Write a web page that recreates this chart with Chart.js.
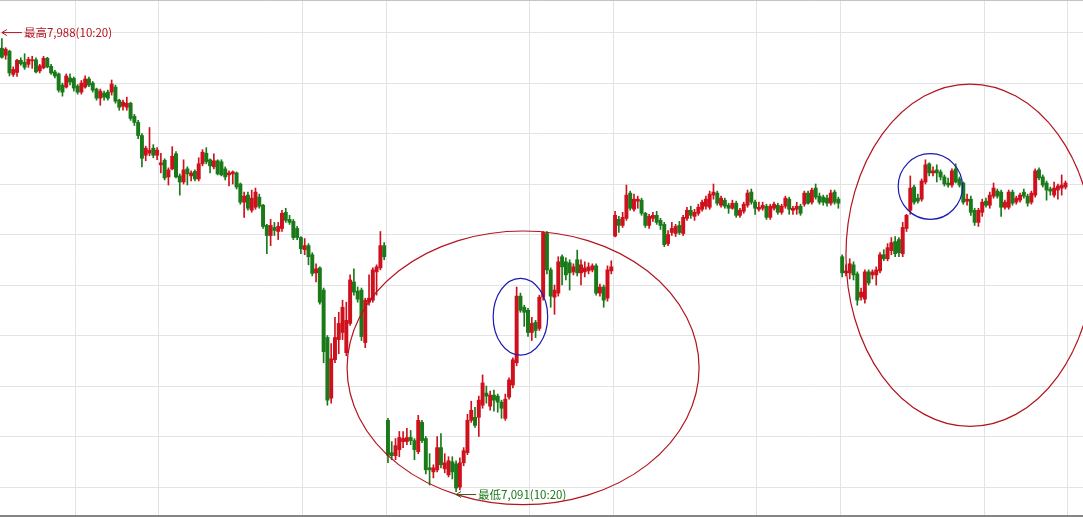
<!DOCTYPE html>
<html>
<head>
<meta charset="utf-8">
<script src="https://cdn.jsdelivr.net/npm/chart.js@4.4.1/dist/chart.umd.min.js"></script>
<style>
html, body { margin: 0; padding: 0; background: #fff; }
#wrap { width: 1083px; height: 518px; position: relative; }
</style>
</head>
<body>
<div id="wrap"><canvas id="kChart"></canvas></div>
<script>
// one bar per minute, four sessions back to back
const opens = [
  7969,7955,7963,7917,7921,7945,7941,7937,7944,7946, 7924,7930,7949,7933,7922,7918,7896,7892,7910,7909,
  7894,7882,7892,7908,7900,7888,7870,7880,7882,7882, 7892,7866,7854,7852,7860,7834,7822,7796,7757,7761,
  7771,7757,7738,7747,7714,7730,7760,7716,7704,7730, 7716,7725,7710,7740,7761,7748,7734,7746,7744,7730,
  7718,7720,7722,7700,7664,7678,7648,7654,7674,7658, 7618,7598,7614,7606,7612,7644,7630,7626,7612,7594,
  7570,7578,7560,7524,7534,7490,7396,7276,7352,7392, 7406,7366,7424,7506,7488,7490,7386,7466,7470,7526,
  7534,7578,
  7232,7168,7162,7174,7190,7190,7198,7192,7170,7228, 7196,7138,7130,7134,7178,7136,7124,7150,7146,7100,
  7148,7168,7232,7238,7238,7262,7286,7260,7282,7280, 7268,7236,7278,7302,7346,7478,7456,7450,7406,7426,
  7414,7476,7602,7530,7476,7484,7556,7546,7544,7526, 7550,7524,7526,7528,7530,7538,7484,7496,7474,7528,
  7597,7630,7618,7632,7682,7650,7666,7668,7642,7618, 7632,7638,7628,7620,7582,7604,7602,7618,7602,7632,
  7648,7636,7642,7650,7656,7654,7678,7682,7658,7668, 7658,7652,7662,7638,7646,7658,7684,7664,7650,7652,
  7656,7634,7652,7658,7644,7656,7670,7648,7650,7656, 7660,7682,7664,7692,7676,7674,7672,7662,7684,7670,
  7556,7524,7524,7540,7522,7476,7472,7526,7520,7520, 7528,7560,7552,7568,7586,7590,7562,7612,7648,7694,
  7672,7670,7704,7740,7722,7728,7724,7714,7702,7698, 7730,7710,7702,7666,7670,7648,7624,7644,7666,7658,
  7676,7686,7684,7654,7654,7684,7664,7668,7684,7676, 7664,7678,7728,7714,7702,7690,7678,7688,7692,7694
];
const highs = [
  7988,7970,7965,7932,7947,7950,7958,7951,7953,7950, 7937,7953,7951,7937,7925,7920,7900,7918,7918,7912,
  7897,7905,7914,7912,7903,7890,7888,7884,7886,7906, 7896,7868,7866,7872,7862,7838,7826,7800,7775,7812,
  7778,7772,7761,7750,7732,7774,7764,7720,7748,7734, 7726,7728,7752,7768,7772,7750,7760,7748,7748,7734,
  7726,7726,7724,7702,7684,7684,7688,7692,7680,7660, 7620,7630,7624,7624,7648,7652,7638,7630,7616,7596,
  7592,7582,7564,7542,7536,7494,7400,7384,7436,7446, 7470,7466,7520,7532,7496,7494,7474,7520,7534,7540,
  7606,7584,
  7236,7190,7196,7210,7210,7216,7212,7196,7242,7232, 7200,7166,7144,7200,7206,7166,7160,7160,7152,7158,
  7178,7244,7270,7258,7280,7322,7300,7290,7292,7284, 7272,7284,7316,7356,7496,7484,7460,7454,7436,7430,
  7480,7606,7606,7534,7500,7556,7560,7554,7550,7542, 7569,7550,7546,7544,7542,7542,7502,7500,7538,7548,
  7646,7636,7644,7698,7686,7680,7676,7672,7644,7640, 7644,7646,7632,7624,7608,7624,7620,7626,7638,7654,
  7656,7650,7660,7668,7676,7686,7700,7686,7676,7672, 7662,7668,7666,7652,7664,7688,7690,7668,7664,7664,
  7660,7660,7664,7662,7660,7676,7674,7656,7664,7660, 7686,7686,7692,7700,7682,7678,7678,7688,7688,7674,
  7560,7540,7552,7546,7526,7494,7530,7530,7530,7536, 7564,7570,7582,7594,7596,7594,7624,7640,7716,7698,
  7680,7710,7748,7742,7734,7738,7728,7718,7712,7730, 7740,7714,7704,7680,7676,7652,7652,7670,7672,7684,
  7702,7690,7688,7668,7688,7688,7676,7682,7690,7680, 7686,7730,7732,7718,7706,7694,7704,7700,7718,7706
];
const lows = [
  7949,7947,7914,7913,7913,7935,7927,7931,7929,7920, 7920,7928,7930,7917,7910,7882,7874,7890,7896,7884,
  7878,7878,7890,7893,7882,7866,7856,7866,7866,7876, 7860,7846,7846,7846,7826,7816,7790,7734,7746,7756,
  7752,7748,7722,7708,7698,7728,7712,7678,7700,7698, 7706,7706,7706,7736,7740,7722,7730,7718,7716,7708,
  7696,7700,7690,7660,7634,7648,7644,7650,7652,7612, 7562,7578,7598,7590,7606,7624,7620,7590,7590,7562,
  7560,7540,7518,7506,7462,7346,7262,7266,7346,7364, 7392,7360,7420,7480,7466,7390,7376,7460,7466,7480,
  7530,7550,
  7148,7154,7154,7160,7178,7184,7184,7154,7166,7188, 7126,7104,7118,7130,7138,7128,7120,7116,7091,7094,
  7142,7164,7228,7218,7200,7256,7266,7252,7250,7248, 7236,7232,7274,7296,7340,7446,7418,7398,7390,7396,
  7410,7470,7522,7456,7442,7478,7500,7510,7490,7520, 7518,7500,7516,7522,7526,7480,7478,7456,7468,7522,
  7595,7604,7614,7628,7648,7646,7652,7638,7614,7612, 7626,7620,7610,7576,7578,7598,7596,7600,7598,7628,
  7632,7628,7638,7646,7650,7650,7670,7658,7654,7652, 7642,7650,7634,7634,7642,7654,7660,7640,7646,7648,
  7630,7630,7648,7640,7640,7652,7640,7640,7640,7638, 7656,7660,7660,7670,7660,7658,7656,7658,7660,7652,
  7516,7518,7512,7510,7460,7470,7464,7500,7512,7500, 7524,7548,7548,7560,7556,7556,7556,7606,7640,7660,
  7662,7666,7700,7716,7716,7704,7708,7696,7694,7694, 7702,7694,7660,7658,7638,7618,7616,7636,7654,7652,
  7672,7672,7636,7650,7650,7658,7660,7664,7672,7656, 7660,7674,7708,7694,7668,7678,7674,7670,7678,7690
];
const closes = [
  7951,7967,7920,7927,7945,7938,7931,7947,7946,7922, 7934,7949,7932,7920,7914,7886,7882,7914,7902,7890,
  7882,7900,7908,7896,7886,7870,7884,7872,7870,7898, 7864,7852,7862,7860,7830,7822,7796,7751,7771,7767,
  7757,7767,7742,7712,7728,7755,7714,7704,7728,7720, 7722,7710,7740,7763,7744,7736,7746,7720,7718,7714,
  7722,7724,7694,7664,7676,7652,7672,7684,7656,7616, 7598,7618,7608,7616,7642,7628,7624,7594,7594,7572,
  7578,7556,7523,7532,7466,7368,7272,7354,7396,7424, 7456,7430,7510,7486,7472,7398,7470,7474,7530,7536,
  7578,7556,
  7163,7162,7182,7198,7196,7198,7192,7174,7232,7192, 7134,7134,7138,7178,7144,7148,7152,7130,7098,7148,
  7172,7232,7252,7222,7272,7306,7280,7282,7272,7268, 7256,7274,7312,7352,7478,7450,7446,7406,7424,7410,
  7476,7604,7530,7478,7490,7546,7536,7520,7524,7536, 7524,7540,7534,7536,7538,7484,7496,7470,7530,7536,
  7638,7618,7634,7678,7652,7670,7670,7642,7618,7636, 7638,7624,7618,7580,7600,7612,7616,7604,7634,7648,
  7638,7644,7654,7664,7670,7680,7684,7662,7672,7656, 7652,7662,7638,7648,7660,7682,7664,7652,7654,7658,
  7634,7656,7660,7644,7656,7672,7650,7652,7656,7642, 7682,7662,7688,7674,7664,7664,7662,7682,7664,7662,
  7524,7528,7542,7520,7470,7486,7526,7504,7526,7530, 7560,7552,7574,7584,7562,7564,7614,7638,7692,7664,
  7666,7706,7738,7722,7726,7722,7714,7700,7698,7726, 7704,7698,7664,7670,7644,7624,7648,7664,7658,7678,
  7692,7676,7654,7664,7684,7662,7672,7678,7676,7662, 7682,7726,7712,7698,7688,7686,7692,7696,7698,7702
];
const priceLines = [7100, 7200, 7300, 7400, 7500, 7600, 7700, 7800, 7900, 8000];
const timeLines = [19.5, 41.5, 79.5, 101.5, 139.5, 161.5, 199.5, 221.5, 259.5, 281.5];
const highText = '最高7,988(10:20)';
const lowText = '最低7,091(10:20)';

const UP = '#cf111d';
const DOWN = '#1a7a1a';

// hand drawn marks: centre (bar, price) and half sizes (bars, points)
const zones = [
  { i: 137.7, p: 7336, di: 46.5, dp: 271, color: '#b3141f' },
  { i: 137.0, p: 7437, di: 7.2, dp: 76, color: '#1a1ab4' },
  { i: 255.8, p: 7559, di: 32.8, dp: 339, color: '#b3141f' },
  { i: 245.3, p: 7695, di: 8.5, dp: 65, color: '#1a1ab4' }
];

const colors = closes.map((c, i) => c >= opens[i] ? UP : DOWN);
const bodies = closes.map((c, i) => ({ x: i, y: [opens[i], c] }));
const wicks = closes.map((c, i) => ({ x: i, y: [lows[i], highs[i]] }));

function arrowLabel(ctx, x, y, text, lineColor, textColor) {
  ctx.strokeStyle = lineColor;
  ctx.lineWidth = 1;
  ctx.beginPath();
  ctx.moveTo(x, y); ctx.lineTo(x + 20, y);
  ctx.moveTo(x + 5, y - 3); ctx.lineTo(x, y); ctx.lineTo(x + 5, y + 3);
  ctx.stroke();
  ctx.fillStyle = textColor;
  ctx.font = '11.5px "Noto Sans CJK SC", "Noto Sans", sans-serif';
  ctx.textBaseline = 'middle';
  ctx.textAlign = 'left';
  ctx.fillText(text, x + 22, y);
}

const marks = {
  id: 'marks',
  afterDatasetsDraw(chart) {
    const { ctx, scales: { x, y } } = chart;
    ctx.save();
    ctx.strokeStyle = '#c4c4c4';
    ctx.lineWidth = 1;
    ctx.beginPath();
    ctx.moveTo(0, 0.5); ctx.lineTo(chart.width, 0.5);
    ctx.stroke();

    zones.forEach(z => {
      const cx = x.getPixelForValue(z.i);
      const cy = y.getPixelForValue(z.p);
      const rx = Math.abs(x.getPixelForValue(z.i + z.di) - cx);
      const ry = Math.abs(y.getPixelForValue(z.p + z.dp) - cy);
      ctx.beginPath();
      ctx.ellipse(cx, cy, rx, ry, 0, 0, Math.PI * 2);
      ctx.strokeStyle = z.color;
      ctx.lineWidth = 1.2;
      ctx.stroke();
    });

    const hi = highs.indexOf(Math.max(...highs));
    const lo = lows.indexOf(Math.min(...lows));
    arrowLabel(ctx, x.getPixelForValue(hi), y.getPixelForValue(highs[hi]) - 6, highText, '#b3141f', '#b3141f');
    arrowLabel(ctx, x.getPixelForValue(lo), y.getPixelForValue(lows[lo]) + 3, lowText, '#4a4a1a', '#1a7a1a');
    ctx.restore();
  }
};

new Chart(document.getElementById('kChart'), {
  type: 'bar',
  data: {
    datasets: [
      { label: 'body', data: bodies, backgroundColor: colors, barThickness: 3.3, minBarLength: 1, grouped: false, borderWidth: 0 },
      { label: 'wick', data: wicks, backgroundColor: colors, barThickness: 1, grouped: false, borderWidth: 0 }
    ]
  },
  options: {
    responsive: true,
    maintainAspectRatio: false,
    animation: false,
    layout: { padding: { left: 0, right: 0, top: 0, bottom: 2 } },
    plugins: { legend: { display: false }, tooltip: { enabled: false } },
    scales: {
      x: {
        type: 'linear',
        offset: false,
        min: -0.5,
        max: 285.63,
        afterBuildTicks: axis => { axis.ticks = timeLines.map(v => ({ value: v })); },
        ticks: { display: false },
        grid: { color: '#e3e3e3', drawTicks: false, offset: false },
        border: { display: true, color: '#858585', width: 2 }
      },
      y: {
        min: 7042.6,
        max: 8064.4,
        afterBuildTicks: axis => { axis.ticks = priceLines.map(v => ({ value: v })); },
        ticks: { display: false },
        grid: { color: '#e3e3e3', drawTicks: false },
        border: { display: false }
      }
    }
  },
  plugins: [marks]
});
</script>
</body>
</html>
